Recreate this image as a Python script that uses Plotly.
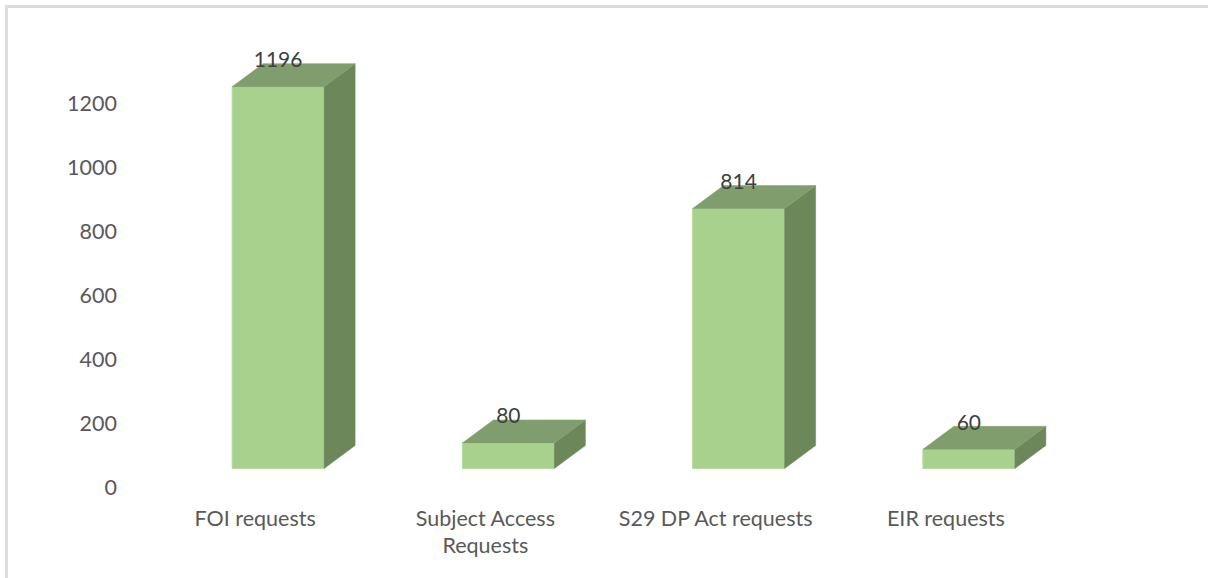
import plotly.graph_objects as go

categories = ["FOI requests", "Subject Access<br>Requests", "S29 DP Act requests", "EIR requests"]
values = [1196, 80, 814, 60]
y_ticks = [0, 200, 400, 600, 800, 1000, 1200]

FRONT, TOP, SIDE = "#A9D18E", "#809E6D", "#6C875A"
W, H = 1208, 578
L, R, T, B = 140, 147, 40, 91          # plot area: x 140..1061, y 40..487
PX_X = (W - L - R) / 4                  # pixels per category slot
PX_Y = (H - T - B) / 1400               # pixels per value unit
shift = 23 / PX_X                       # front face centre vs. category centre
half = 46 / PX_X
dx = 31 / PX_X                          # depth of the box
dy = 23 / PX_Y
base = 18.5 / PX_Y                      # floor of the box above the zero label
lab = 25 / PX_Y                         # data label above the front top edge

fig = go.Figure()
xs = [i + shift for i in range(len(values))]

fig.add_trace(go.Bar(x=xs, y=values, base=base, width=2 * half,
                     marker=dict(color=FRONT, line=dict(color="#B6D9A0", width=1)),
                     showlegend=False, hoverinfo="skip"))

for x, v in zip(xs, values):
    l, r, b, t = x - half, x + half, base, base + v
    fig.add_trace(go.Scatter(x=[r, r + dx, r + dx, r, r], y=[b, b + dy, t + dy, t, b],
                             mode="lines", fill="toself", fillcolor=SIDE,
                             line=dict(color=SIDE, width=0.5), showlegend=False, hoverinfo="skip"))
    fig.add_trace(go.Scatter(x=[l, l + dx, r + dx, r, l], y=[t, t + dy, t + dy, t, t],
                             mode="lines", fill="toself", fillcolor=TOP,
                             line=dict(color=TOP, width=0.5), showlegend=False, hoverinfo="skip"))

fig.add_trace(go.Scatter(x=xs, y=[base + v + lab for v in values], mode="text",
                         text=[str(v) for v in values], textposition="middle center",
                         textfont=dict(family="Lato", size=21, color="#404040"),
                         showlegend=False, hoverinfo="skip"))

fx = lambda px: (px - L) / (W - L - R)
fy = lambda py: (H - B - py) / (H - T - B)
border = dict(type="line", xref="paper", yref="paper", line=dict(color="#DCDCDC", width=3))
fig.add_shape(x0=fx(6.5), x1=fx(W), y0=fy(6.5), y1=fy(6.5), **border)
fig.add_shape(x0=fx(6.5), x1=fx(6.5), y0=fy(5), y1=fy(H), **border)

fig.update_layout(
    width=W, height=H, margin=dict(l=L, r=R, t=T, b=B),
    paper_bgcolor="white", plot_bgcolor="white", showlegend=False,
    xaxis=dict(range=[-0.5, 3.5], tickmode="array", tickvals=list(range(4)), ticktext=categories,
               showgrid=False, zeroline=False, showline=False, ticks="", tickangle=0,
               ticklabelstandoff=16, tickfont=dict(family="Lato", size=21.5, color="#595959")),
    yaxis=dict(range=[0, 1400], tickmode="array", tickvals=y_ticks,
               showgrid=False, zeroline=False, showline=False, ticks="",
               ticklabelstandoff=22, tickfont=dict(family="Lato", size=21.5, color="#595959")),
)

fig.write_html("out.html", config={"displayModeBar": False},
               post_script="document.body.style.margin='0';document.body.style.overflow='hidden';")
